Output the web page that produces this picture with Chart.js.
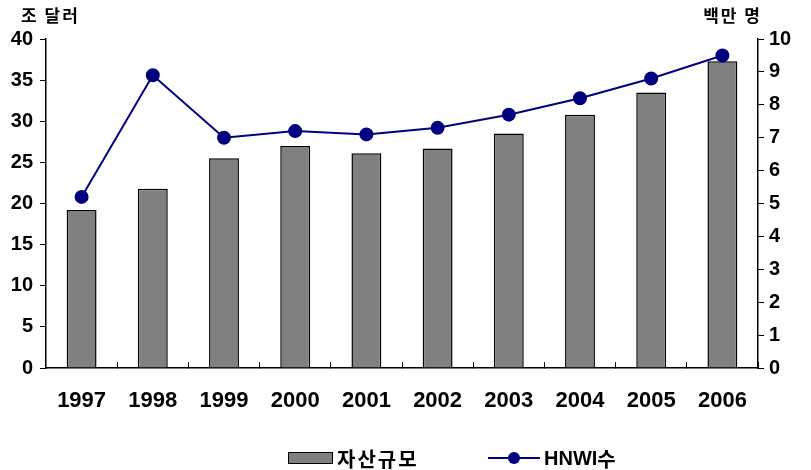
<!DOCTYPE html>
<html>
<head>
<meta charset="utf-8">
<script src="https://cdn.jsdelivr.net/npm/chart.js@4"></script>
<style>
  html, body { margin: 0; padding: 0; background: #fff; }
  #wrap { width: 811px; height: 470px; }
</style>
</head>
<body>
<div id="wrap"><canvas id="hnwiChart" width="811" height="470"></canvas></div>
<script>
// ==== Data ====
const years = ["1997", "1998", "1999", "2000", "2001", "2002", "2003", "2004", "2005", "2006"];
const assetSize = [19.2, 21.8, 25.5, 27.0, 26.1, 26.7, 28.5, 30.8, 33.5, 37.3]; // 조 달러
const hnwiCount = [5.2, 8.9, 7.0, 7.2, 7.1, 7.3, 7.7, 8.2, 8.8, 9.5];         // 백만 명
const leftTicks = [0, 5, 10, 15, 20, 25, 30, 35, 40];
const rightTicks = [0, 1, 2, 3, 4, 5, 6, 7, 8, 9, 10];

const barLabel = "자산규모";
const lineLabel = "HNWI수";
const leftUnit = "조 달러";
const rightUnit = "백만 명";

const numFont = "'Liberation Sans', Arial, sans-serif";
const korFont = "'Noto Sans CJK KR', 'Liberation Sans', sans-serif";
const barColor = "#808080";
const lineColor = "#000080";

// ==== Units above the axes + legend under the chart ====
const decorations = {
  id: "decorations",
  afterDraw(chart) {
    const ctx = chart.ctx;
    const area = chart.chartArea;
    ctx.save();
    ctx.fillStyle = "#000";
    ctx.font = "bold 17px " + korFont;
    ctx.textBaseline = "middle";
    ctx.letterSpacing = "2px";
    ctx.textAlign = "left";
    ctx.fillText(leftUnit, 21, 16);
    ctx.textAlign = "right";
    ctx.fillText(rightUnit, area.right + 4, 16);

    // legend
    const ly = 458;
    ctx.fillStyle = barColor;
    ctx.strokeStyle = "#000";
    ctx.lineWidth = 1;
    ctx.fillRect(288, ly - 6, 45, 12);
    ctx.strokeRect(288.5, ly - 5.5, 44, 11);
    ctx.fillStyle = "#000";
    ctx.textAlign = "left";
    ctx.font = "bold 20px " + korFont;
    ctx.fillText(barLabel, 337, ly + 1);

    ctx.letterSpacing = "0px";
    ctx.strokeStyle = lineColor;
    ctx.lineWidth = 2;
    ctx.beginPath();
    ctx.moveTo(488, ly);
    ctx.lineTo(540, ly);
    ctx.stroke();
    ctx.fillStyle = lineColor;
    ctx.beginPath();
    ctx.arc(514, ly, 6, 0, Math.PI * 2);
    ctx.fill();
    ctx.fillStyle = "#000";
    ctx.font = "bold 20px " + numFont;
    const hw = ctx.measureText("HNWI").width;
    ctx.fillText("HNWI", 544, ly + 1);
    ctx.font = "bold 20px " + korFont;
    ctx.fillText("수", 544 + hw, ly + 1);
    ctx.restore();
  }
};

// ==== Chart ====
const chart = new Chart(document.getElementById("hnwiChart"), {
  type: "bar",
  data: {
    labels: years,
    datasets: [
      {
        type: "line",
        label: lineLabel,
        data: hnwiCount,
        yAxisID: "yRight",
        borderColor: lineColor,
        backgroundColor: lineColor,
        borderWidth: 2,
        pointRadius: 6,
        pointBackgroundColor: lineColor,
        pointBorderColor: lineColor,
        tension: 0,
        order: 0
      },
      {
        type: "bar",
        label: barLabel,
        data: assetSize,
        yAxisID: "yLeft",
        backgroundColor: barColor,
        borderColor: "#000",
        borderWidth: 1.5,
        categoryPercentage: 1,
        barPercentage: 0.42,
        order: 1
      }
    ]
  },
  options: {
    responsive: false,
    animation: false,
    layout: { padding: { top: 39, bottom: 0, left: 0, right: 0 } },
    plugins: {
      legend: { display: false },
      tooltip: { enabled: false }
    },
    scales: {
      x: {
        offset: true,
        grid: {
          offset: true,
          drawOnChartArea: false,
          tickLength: -6,
          color: "#000",
          lineWidth: 1
        },
        border: { color: "#000", width: 1.5 },
        ticks: {
          color: "#000",
          padding: 26,
          maxRotation: 0,
          font: { family: numFont, size: 22, weight: "bold" }
        },
        afterFit: (scale) => { scale.height = 102; }
      },
      yLeft: {
        position: "left",
        min: 0,
        max: 40,
        afterBuildTicks: (scale) => { scale.ticks = leftTicks.map(v => ({ value: v })); },
        grid: { drawOnChartArea: false, tickLength: 6, color: "#000" },
        border: { color: "#000", width: 1.5 },
        ticks: {
          color: "#000",
          padding: 7,
          font: { family: numFont, size: 20, weight: "bold" }
        },
        afterFit: (scale) => { scale.width = 46; }
      },
      yRight: {
        position: "right",
        min: 0,
        max: 10,
        afterBuildTicks: (scale) => { scale.ticks = rightTicks.map(v => ({ value: v })); },
        grid: { drawOnChartArea: false, tickLength: 6, color: "#000" },
        border: { color: "#000", width: 1.5 },
        ticks: {
          color: "#000",
          padding: 5,
          font: { family: numFont, size: 20, weight: "bold" }
        },
        afterFit: (scale) => { scale.width = 53; }
      }
    }
  },
  plugins: [decorations]
});
</script>
</body>
</html>
